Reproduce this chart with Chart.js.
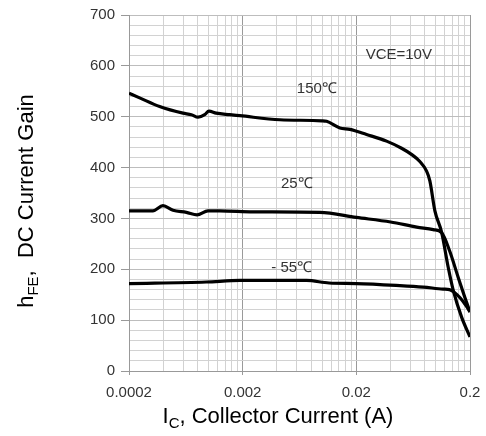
<!DOCTYPE html>
<html lang="en">
<head>
    <meta charset="UTF-8">
    <title>hFE vs Collector Current</title>
    <script src="https://cdn.jsdelivr.net/npm/chart.js"></script>
    <style>
        body {
            margin: 0;
            background: #fff;
        }
        .chart-container {
            position: relative;
            width: 486px;
            height: 436px;
        }
    </style>
</head>
<body>
    <div class="chart-container">
        <canvas id="hfeChart"></canvas>
    </div>

    <script>
        // Collector current (A) and DC current gain
        const ic150 = [0.0002, 0.000248, 0.000372, 0.000597, 0.000708, 0.00081, 0.000927, 0.00101, 0.00117, 0.00154, 0.00189,
                       0.00425, 0.00989, 0.01094, 0.01433, 0.01755, 0.0246, 0.0369, 0.05, 0.062, 0.0724, 0.083, 0.0887,
                       0.0982, 0.1125, 0.1286, 0.1423, 0.1687, 0.2];
        const hfe150 = [546, 537, 520, 507, 504, 499, 504, 511, 507, 504, 502,
                        494, 492, 491, 478, 475, 465, 452, 438, 425, 412, 393, 374,
                        315, 273, 204, 159, 106, 67];

        const ic25 = [0.0002, 0.000325, 0.000398, 0.000488, 0.00064, 0.000794, 0.000991, 0.00126, 0.00247, 0.00955,
                      0.02, 0.04, 0.068, 0.095, 0.1125, 0.132, 0.157, 0.18, 0.2];
        const hfe25 = [315, 315, 325, 316, 312, 307, 315, 315, 313, 312,
                       302, 293, 283, 278, 272, 237, 185, 145, 116];

        const icM55 = [0.0002, 0.000957, 0.00189, 0.00729, 0.0115, 0.02, 0.0483, 0.0775, 0.116, 0.132, 0.145, 0.165, 0.185, 0.2];
        const hfeM55 = [172, 175, 178, 178, 173, 172, 168, 165, 161, 160, 155, 143, 128, 116];

        // Axis tick labels
        const xTickValues = [0.0002, 0.002, 0.02, 0.2];
        const xTickLabels = ['0.0002', '0.002', '0.02', '0.2'];
        const yTickValues = [0, 100, 200, 300, 400, 500, 600, 700];

        // Text inside the plot: [text, x (A), hFE]
        const notes = [
            ['VCE=10V', 0.0473, 622],
            ['150\u2103', 0.00898, 554],
            ['25\u2103', 0.00599, 368],
            ['- 55\u2103', 0.00541, 202]
        ];

        const FONT = '"Liberation Sans", Arial, sans-serif';

        // minor log grid: 1..9 steps within each decade
        const xGrid = [];
        xTickValues.forEach((d, i) => {
            if (i === xTickValues.length - 1) { xGrid.push(d); return; }
            for (let k = 1; k < 10; k++) xGrid.push(d * k);
        });

        function isXMajor(v) {
            return xTickValues.some(t => Math.abs(t - v) / t < 1e-6);
        }

        function toPoints(xs, ys) {
            return xs.map((x, i) => ({ x: x, y: ys[i] }));
        }

        function drawRich(c, parts, cx, baseline, size) {
            const subSize = Math.round(size * 0.68);
            let total = 0;
            parts.forEach(p => {
                c.font = (p.sub ? subSize : size) + 'px ' + FONT;
                total += c.measureText(p.t).width;
            });
            let x = cx - total / 2;
            c.textAlign = 'left';
            c.textBaseline = 'alphabetic';
            parts.forEach(p => {
                c.font = (p.sub ? subSize : size) + 'px ' + FONT;
                c.fillText(p.t, x, p.sub ? baseline + size * 0.22 : baseline);
                x += c.measureText(p.t).width;
            });
        }

        const textPlugin = {
            id: 'texts',
            afterDatasetsDraw(chart) {
                const c = chart.ctx;
                const xs = chart.scales.x, ys = chart.scales.y;
                c.save();
                c.fillStyle = '#333';
                c.textAlign = 'center';
                c.textBaseline = 'middle';
                notes.forEach(n => {
                    c.font = '15px ' + FONT;
                    c.fillText(n[0], xs.getPixelForValue(n[1]), ys.getPixelForValue(n[2]));
                });
                c.restore();
            },
            afterDraw(chart) {
                const c = chart.ctx;
                c.save();
                c.fillStyle = '#000';
                drawRich(c, [{ t: 'I' }, { t: 'C', sub: true }, { t: ', Collector Current (A)' }], 278, 423, 22);
                c.translate(33, 201);
                c.rotate(-Math.PI / 2);
                drawRich(c, [{ t: 'h' }, { t: 'FE', sub: true }, { t: ',  DC Current Gain' }], 0, 0, 22);
                c.restore();
            }
        };

        const lineStyle = {
            borderColor: '#000',
            borderWidth: 3.2,
            pointRadius: 0,
            fill: false,
            cubicInterpolationMode: 'monotone'
        };

        const ctx = document.getElementById('hfeChart').getContext('2d');
        new Chart(ctx, {
            type: 'line',
            data: {
                datasets: [
                    Object.assign({ label: '150\u2103', data: toPoints(ic150, hfe150) }, lineStyle),
                    Object.assign({ label: '25\u2103', data: toPoints(ic25, hfe25) }, lineStyle),
                    Object.assign({ label: '-55\u2103', data: toPoints(icM55, hfeM55) }, lineStyle)
                ]
            },
            options: {
                responsive: true,
                maintainAspectRatio: false,
                animation: false,
                layout: { padding: { left: 0, right: 16, top: 13, bottom: 0 } },
                plugins: {
                    legend: { display: false },
                    tooltip: { enabled: false }
                },
                scales: {
                    x: {
                        type: 'logarithmic',
                        min: 0.0002,
                        max: 0.2,
                        afterBuildTicks: axis => { axis.ticks = xGrid.map(v => ({ value: v })); },
                        afterFit: axis => { axis.height = 65; axis.paddingRight = 0; },
                        border: { color: '#999', width: 1 },
                        grid: {
                            color: c => isXMajor(c.tick.value) ? '#9a9a9a' : '#d2d2d2',
                            tickColor: c => isXMajor(c.tick.value) ? '#999' : 'rgba(0,0,0,0)',
                            tickLength: 4
                        },
                        ticks: {
                            autoSkip: false,
                            maxRotation: 0,
                            padding: 9,
                            color: '#333',
                            font: { family: FONT, size: 15 },
                            callback: function (value) {
                                const i = xTickValues.findIndex(t => Math.abs(t - value) / t < 1e-6);
                                return i >= 0 ? xTickLabels[i] : '';
                            }
                        }
                    },
                    y: {
                        min: 0,
                        max: 700,
                        afterFit: axis => { axis.width = 129; },
                        border: { color: '#999', width: 1 },
                        grid: {
                            color: c => yTickValues.includes(c.tick.value) ? '#bdbdbd' : '#d2d2d2',
                            tickColor: c => yTickValues.includes(c.tick.value) ? '#999' : 'rgba(0,0,0,0)',
                            tickLength: 8
                        },
                        ticks: {
                            stepSize: 20,
                            autoSkip: false,
                            padding: 6,
                            color: '#333',
                            font: { family: FONT, size: 15 },
                            callback: v => yTickValues.includes(v) ? String(v) : ''
                        }
                    }
                }
            },
            plugins: [textPlugin]
        });
    </script>
</body>
</html>
